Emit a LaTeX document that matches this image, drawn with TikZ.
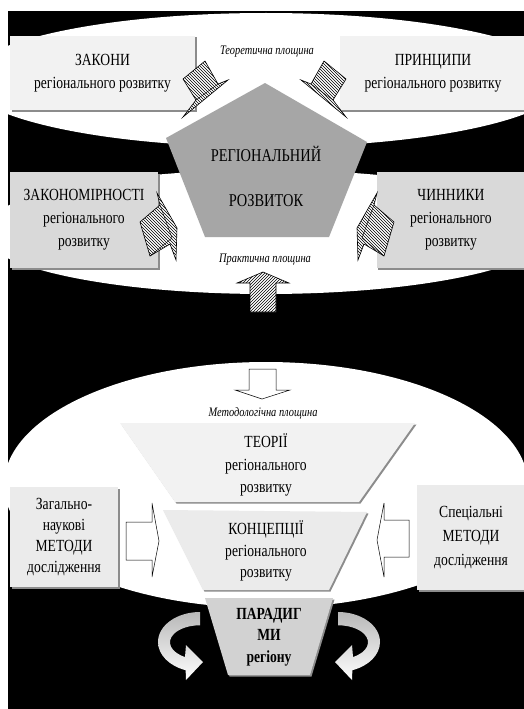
\documentclass[tikz,border=0pt]{standalone}
\usepackage{fontspec}
\setmainfont{Liberation Serif}[FakeStretch=0.8]
\usetikzlibrary{patterns,shadows}

\definecolor{boxlight}{HTML}{F2F2F2}
\definecolor{boxmid}{HTML}{D9D9D9}
\definecolor{boxside}{HTML}{EBEBEB}
\definecolor{pentagray}{HTML}{A6A6A6}
\definecolor{paragray}{HTML}{D2D2D2}

\tikzset{
  boxshadow/.style={drop shadow={shadow xshift=1.5pt, shadow yshift=-1.5pt, fill=black!45, opacity=1}},
  boxtext/.style={align=center, inner sep=0pt, font=\fontsize{17}{23}\selectfont},
  topbox/.style={rectangle, fill=boxlight, boxshadow, boxtext, minimum width=185, minimum height=74},
  midbox/.style={rectangle, fill=boxmid, boxshadow, boxtext, minimum width=148, minimum height=96},
  sidebox/.style={rectangle, fill=boxside, boxshadow, boxtext, minimum width=108, minimum height=100},
  planelabel/.style={font=\itshape\fontsize{13}{15}\selectfont, inner sep=1pt},
  hatched/.style={draw=black, line width=0.6pt, preaction={fill=white}, pattern=north west lines},
  blockarrow/.style={draw=black, line width=0.5pt, fill=white},
  turnarrow/.style={top color=black!28, bottom color=white}
}

\begin{document}
\begin{tikzpicture}[x=1pt,y=-1pt]
% page and black ground
\useasboundingbox (0,0) rectangle (524,709);
\fill[white] (0,0) rectangle (524,709);
\fill[black] (8,11) rectangle (524,709);
% white planes
\begin{scope}
   \clip (8,11) rectangle (524,709);
   \fill[white] (266,80) ellipse [x radius=300, y radius=67];
   \fill[white] (266,232) ellipse [x radius=285, y radius=62];
   \fill[white] (266,485) ellipse [x radius=262, y radius=123];
\end{scope}
%
% theoretical plane
\node[topbox] (zakony) at (102.5,73) {ЗАКОНИ\\регіонального розвитку};
\node[topbox, minimum width=186] (pryntsypy) at (433,73) {ПРИНЦИПИ\\регіонального розвитку};
\node[planelabel] (teorpl) at (267,52) {Теоретична площина};
%
% practical plane
\node[midbox] (zakonomirnosti) at (84,220) {ЗАКОНОМІРНОСТІ\\регіонального\\розвитку};
\node[midbox, minimum width=149] (chynnyky) at (451,220) {ЧИННИКИ\\регіонального\\розвитку};
\node[planelabel] (praktpl) at (265,260) {Практична площина};
%
% centre pentagon
\coordinate (ptop) at (265,83);
\coordinate (pright) at (367,142);
\coordinate (pbr) at (329,237);
\coordinate (pbl) at (205,237);
\coordinate (pleft) at (166,138);
\fill[pentagray] (ptop) -- (pright) -- (pbr) -- (pbl) -- (pleft) -- cycle;
\node[align=center, font=\fontsize{18}{45}\selectfont] (rozvytok) at (266,176) {РЕГІОНАЛЬНИЙ\\РОЗВИТОК};
%
% hatched arrows to the centre
\newcommand{\tiltarrow}{
	\draw[hatched] (205,61) -- (218,84) -- (228,80) -- (183,117) -- (196,100) -- (183,79) -- cycle;
	\draw (218,84) -- (196,100);
}
\newcommand{\sidearrow}{
	\draw[hatched] (140,222) -- (160,205) -- (157,193) -- (177,228) -- (176,260) -- (170,244) -- (150,256) -- cycle;
	\draw (160,205) -- (172,238) -- (150,256);
}
\tiltarrow
\begin{scope}[xshift=529, xscale=-1]
   \tiltarrow
\end{scope}
\sidearrow
\begin{scope}[xshift=534, xscale=-1]
   \sidearrow
\end{scope}
% up arrow
\draw[hatched, pattern=north east lines] (250,312) -- (276,312) -- (276,283) -- (289,283) -- (263,272) -- (237,283) -- (250,283) -- cycle;
%
% methodological plane
\draw[blockarrow] (249,369) -- (276,369) -- (276,390) -- (290,390) -- (262,399) -- (235,390) -- (249,390) -- cycle;
\node[planelabel] (metodpl) at (263,413) {Методологічна площина};
% funnel
\fill[boxlight, boxshadow] (120,423) -- (415,423) -- (359,502) -- (175,502) -- cycle;
\node[boxtext, font=\fontsize{17}{22.5}\selectfont] (teorii) at (266,465) {ТЕОРІЇ\\регіонального\\розвитку};
\fill[boxside, boxshadow] (163,510) -- (367,512) -- (329,590) -- (203,590) -- cycle;
\node[boxtext, font=\fontsize{17}{21.5}\selectfont] (kontseptsii) at (266,551) {КОНЦЕПЦІЇ\\регіонального\\розвитку};
\fill[paragray, boxshadow] (205,598) -- (333,598) -- (310,675) -- (228,675) -- cycle;
\node[boxtext, font=\bfseries\fontsize{17}{21.5}\selectfont] (paradygmy) at (269,637) {ПАРАДИГ\\МИ\\регіону};
% methods
\node[sidebox, font=\fontsize{17}{21}\selectfont] (zagalni) at (64,537) {Загально-\\наукові\\МЕТОДИ\\дослідження};
\node[sidebox, minimum height=105, font=\fontsize{17}{24}\selectfont] (spetsialni) at (471,537.5) {Спеціальні\\МЕТОДИ\\дослідження};
\draw[blockarrow] (126,522) -- (152,522) -- (152,503) -- (159,541) -- (152,577) -- (152,560) -- (126,560) -- cycle;
\draw[blockarrow] (409,520) -- (384,520) -- (384,503) -- (377,540) -- (384,577) -- (384,557) -- (409,557) -- cycle;
%
% turning arrows round the paradigm
\shade[turnarrow] (200,612) arc[start angle=270, end angle=110, x radius=42, y radius=30]
   -- (186,680) -- (203,662) -- (186,645) -- (185,657) arc[start angle=120, end angle=270, x radius=30, y radius=17] -- cycle;
\shade[turnarrow] (338,612) arc[start angle=270, end angle=430, x radius=42, y radius=30]
   -- (352,680) -- (335,662) -- (352,645) -- (353,657) arc[start angle=60, end angle=-90, x radius=30, y radius=17] -- cycle;
\end{tikzpicture}
\end{document}
